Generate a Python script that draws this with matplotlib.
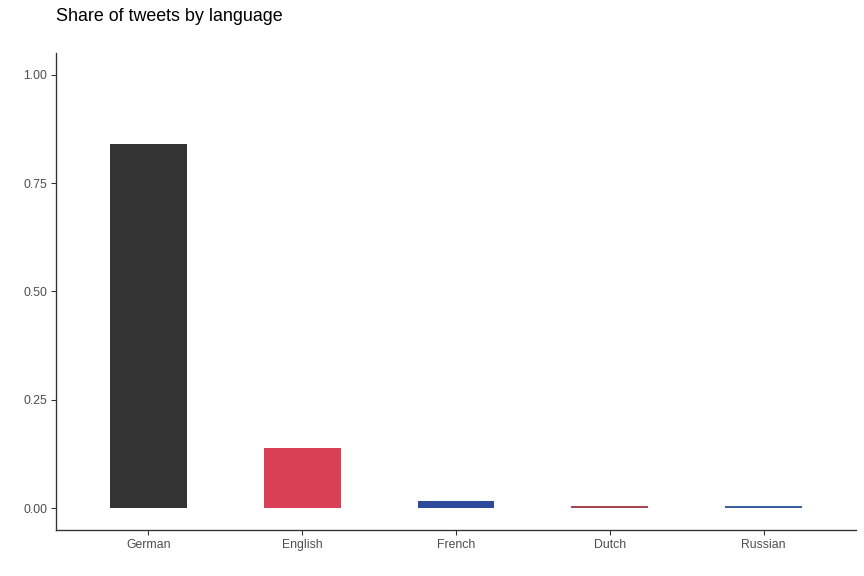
import matplotlib
matplotlib.use("Agg")
import matplotlib.pyplot as plt

languages = ["German", "English", "French", "Dutch", "Russian"]
shares = [0.841, 0.139, 0.016, 0.005, 0.005]
colors = ["#333333", "#d93f55", "#2e4a9c", "#a8444f", "#3b5e9c"]
yticks = [0.00, 0.25, 0.50, 0.75, 1.00]
ytick_labels = ["0.00", "0.25", "0.50", "0.75", "1.00"]

plt.rcParams['font.family'] = ['Liberation Sans', 'DejaVu Sans']

fig = plt.figure(figsize=(9, 6), dpi=96)
ax = fig.add_axes([56/864, 1-530/576, 800/864, 477/576])

x = list(range(1, len(languages) + 1))
ax.bar(x, shares, width=0.5, color=colors)

ax.set_xlim(0.4, 5.6)
ax.set_ylim(-0.05, 1.05)
ax.set_xticks(x)
ax.set_xticklabels(languages)
ax.set_yticks(yticks)
ax.set_yticklabels(ytick_labels)

for s in ["top", "right"]:
    ax.spines[s].set_visible(False)
for s in ["left", "bottom"]:
    ax.spines[s].set_color("#333333")
    ax.spines[s].set_linewidth(1.0)

ax.tick_params(axis="both", colors="#333333", labelcolor="#4d4d4d",
               labelsize=9.2, length=3.5, width=0.8, pad=3)

fig.text(56/864, 1-16.5/576, "Share of tweets by language", fontsize=13.45,
         color="black", ha="left", va="center")

fig.savefig("out.png", dpi=96)
